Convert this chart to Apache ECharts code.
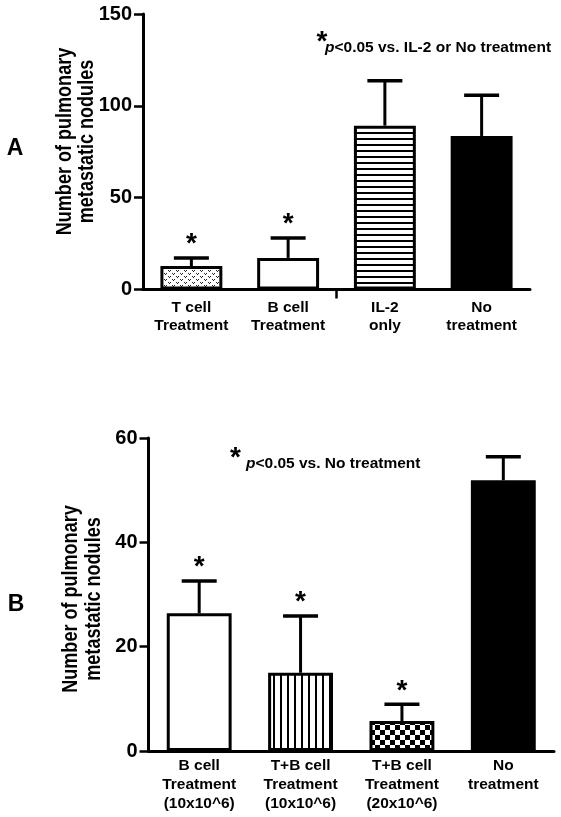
<!DOCTYPE html>
<html>
<head>
<meta charset="utf-8">
<script src="https://cdn.jsdelivr.net/npm/echarts@6/dist/echarts.min.js"></script>
<style>
html,body{margin:0;padding:0;background:#fff;}
#chart{width:561px;height:817px;}
</style>
</head>
<body>
<div id="chart"></div>
<script>
// ---- Data ----
const categoriesA = ['T cell\nTreatment', 'B cell\nTreatment', 'IL-2\nonly', 'No\ntreatment'];
const meansA = [12.8, 17.2, 89.2, 83.6];
const errorsA = [4.4, 10.8, 24.4, 22.2];
const significantA = [1, 1, 0, 0];
const ticksA = [0, 50, 100, 150];
const axisBreakA = [2]; // small tick before this category

const categoriesB = ['B cell\nTreatment\n(10x10^6)', 'T+B cell\nTreatment\n(10x10^6)', 'T+B cell\nTreatment\n(20x10^6)', 'No\ntreatment'];
const meansB = [26.4, 15.0, 5.75, 51.9];
const errorsB = [6.2, 10.9, 3.2, 4.5];
const significantB = [1, 1, 1, 0];
const ticksB = [0, 20, 40, 60];

const yTitle = 'Number of pulmonary\nmetastatic nodules';
const noteA = 'p<0.05 vs. IL-2 or No treatment';
const noteB = 'p<0.05 vs. No treatment';

// ---- Patterns ----
function makeCanvas(w, h, draw) {
  const c = document.createElement('canvas');
  c.width = w; c.height = h;
  const ctx = c.getContext('2d');
  ctx.fillStyle = '#fff'; ctx.fillRect(0, 0, w, h);
  ctx.fillStyle = '#000';
  draw(ctx);
  return { image: c, repeat: 'repeat' };
}
const dotPattern = makeCanvas(8, 6, ctx => {
  ctx.fillStyle = '#222';
  [[0,0],[4,3]].forEach(([x,y]) => {
    ctx.fillRect(x, y, 1, 1); ctx.fillRect(x + 2, y, 1, 1); ctx.fillRect(x + 1, y + 1, 1, 1);
  });
});
const hStripe = makeCanvas(6, 6, ctx => { ctx.fillRect(0, 0, 6, 2); });
const vStripe = makeCanvas(7, 7, ctx => { ctx.fillRect(0, 0, 2, 7); });
const checker = makeCanvas(10, 10, ctx => { ctx.fillRect(0, 0, 5, 5); ctx.fillRect(5, 5, 5, 5); });

const fillsA = [dotPattern, '#fff', hStripe, '#000'];
const fillsB = ['#fff', vStripe, checker, '#000'];

const FONT = '"Liberation Sans", Arial, sans-serif';
const STAR = 28;

function errRender(params, api) {
  const m = api.value(1), e = api.value(2), s = api.value(3), c = api.value(0);
  const p0 = api.coord([c, m]);
  const p1 = api.coord([c, m + e]);
  const ch = [
    { type: 'line', shape: { x1: p0[0], y1: p0[1], x2: p1[0], y2: p1[1] }, style: { stroke: '#000', lineWidth: 3 } },
    { type: 'line', shape: { x1: p1[0] - 17.5, y1: p1[1], x2: p1[0] + 17.5, y2: p1[1] }, style: { stroke: '#000', lineWidth: 3.5 } }
  ];
  if (s) ch.push({ type: 'text', x: p1[0], y: p1[1] - 13.5, style: { text: '*', fontFamily: FONT, fontWeight: 'bold', fontSize: STAR, align: 'center', verticalAlign: 'middle', fill: '#000' } });
  return { type: 'group', children: ch };
}
function breakRender(params, api) {
  const c = api.value(0);
  const p = api.coord([c, 0]);
  const bw = api.size([1, 0])[0];
  const x = p[0] - bw / 2;
  return { type: 'line', shape: { x1: x, y1: p[1], x2: x, y2: p[1] + 9 }, style: { stroke: '#000', lineWidth: 2.5 } };
}

function barData(means, fills) {
  return means.map((v, i) => ({ value: v, itemStyle: { color: fills[i] } }));
}

const chart = echarts.init(document.getElementById('chart'), null, { renderer: 'canvas' });
const axisLabelY = { color: '#000', fontFamily: FONT, fontWeight: 'bold', fontSize: 20, margin: 11 };
const titleStyle = { text: yTitle, fontFamily: FONT, fontWeight: 'bold', fontSize: 22, lineHeight: 22, align: 'center', verticalAlign: 'middle', fill: '#000' };
chart.setOption({
  animation: false,
  backgroundColor: '#fff',
  grid: [
    { left: 143, right: 31, top: 14, bottom: 527.5 },
    { left: 148.5, right: 7, top: 438, bottom: 66 }
  ],
  xAxis: [
    { type: 'category', gridIndex: 0, data: categoriesA,
      axisLine: { lineStyle: { color: '#000', width: 3 } },
      axisTick: { show: false },
      axisLabel: { color: '#000', fontFamily: FONT, fontWeight: 'bold', fontSize: 15.5, lineHeight: 18.5, margin: 8.5, interval: 0 } },
    { type: 'category', gridIndex: 1, data: categoriesB,
      axisLine: { lineStyle: { color: '#000', width: 3 } },
      axisTick: { show: false },
      axisLabel: { color: '#000', fontFamily: FONT, fontWeight: 'bold', fontSize: 15.5, lineHeight: 19, margin: 5.5, interval: 0 } }
  ],
  yAxis: [
    { type: 'value', gridIndex: 0, min: ticksA[0], max: ticksA[ticksA.length - 1], interval: ticksA[1] - ticksA[0],
      splitLine: { show: false },
      axisLine: { show: true, lineStyle: { color: '#000', width: 3 } },
      axisTick: { show: true, length: 9, lineStyle: { color: '#000', width: 2.5 } },
      axisLabel: axisLabelY },
    { type: 'value', gridIndex: 1, min: ticksB[0], max: ticksB[ticksB.length - 1], interval: ticksB[1] - ticksB[0],
      splitLine: { show: false },
      axisLine: { show: true, lineStyle: { color: '#000', width: 3 } },
      axisTick: { show: true, length: 9, lineStyle: { color: '#000', width: 2.5 } },
      axisLabel: axisLabelY }
  ],
  series: [
    { type: 'bar', xAxisIndex: 0, yAxisIndex: 0, barWidth: '64%', data: barData(meansA, fillsA),
      itemStyle: { borderColor: '#000', borderWidth: 3 } },
    { type: 'custom', xAxisIndex: 0, yAxisIndex: 0, renderItem: errRender, z: 3,
      data: meansA.map((m, i) => [i, m, errorsA[i], significantA[i]]) },
    { type: 'custom', xAxisIndex: 0, yAxisIndex: 0, renderItem: breakRender, z: 3, clip: false,
      data: axisBreakA.map(i => [i, 0]) },
    { type: 'bar', xAxisIndex: 1, yAxisIndex: 1, barWidth: '64%', data: barData(meansB, fillsB),
      itemStyle: { borderColor: '#000', borderWidth: 3 } },
    { type: 'custom', xAxisIndex: 1, yAxisIndex: 1, renderItem: errRender, z: 3,
      data: meansB.map((m, i) => [i, m, errorsB[i], significantB[i]]) }
  ],
  graphic: [
    { type: 'text', x: 75.5, y: 141.5, rotation: Math.PI / 2, scaleX: 0.82, style: titleStyle },
    { type: 'text', x: 82, y: 599, rotation: Math.PI / 2, scaleX: 0.82, style: Object.assign({}, titleStyle, { lineHeight: 23 }) },
    { type: 'text', x: 15, y: 149, style: { text: 'A', fontFamily: FONT, fontWeight: 'bold', fontSize: 23, align: 'center', verticalAlign: 'middle', fill: '#000' } },
    { type: 'text', x: 16, y: 605, style: { text: 'B', fontFamily: FONT, fontWeight: 'bold', fontSize: 23, align: 'center', verticalAlign: 'middle', fill: '#000' } },
    { type: 'text', x: 322, y: 42, style: { text: '*', fontFamily: FONT, fontWeight: 'bold', fontSize: STAR, align: 'center', verticalAlign: 'middle', fill: '#000' } },
    { type: 'text', x: 325, y: 48, style: { text: '{i|p}' + noteA.slice(1), rich: { i: { fontStyle: 'italic', fontWeight: 'bold', fontFamily: FONT, fontSize: 15.5 } }, fontFamily: FONT, fontWeight: 'bold', fontSize: 15.5, align: 'left', verticalAlign: 'middle', fill: '#000' } },
    { type: 'text', x: 235.5, y: 458, style: { text: '*', fontFamily: FONT, fontWeight: 'bold', fontSize: STAR, align: 'center', verticalAlign: 'middle', fill: '#000' } },
    { type: 'text', x: 246, y: 464, style: { text: '{i|p}' + noteB.slice(1), rich: { i: { fontStyle: 'italic', fontWeight: 'bold', fontFamily: FONT, fontSize: 15.5 } }, fontFamily: FONT, fontWeight: 'bold', fontSize: 15.5, align: 'left', verticalAlign: 'middle', fill: '#000' } }
  ]
});
</script>
</body>
</html>
